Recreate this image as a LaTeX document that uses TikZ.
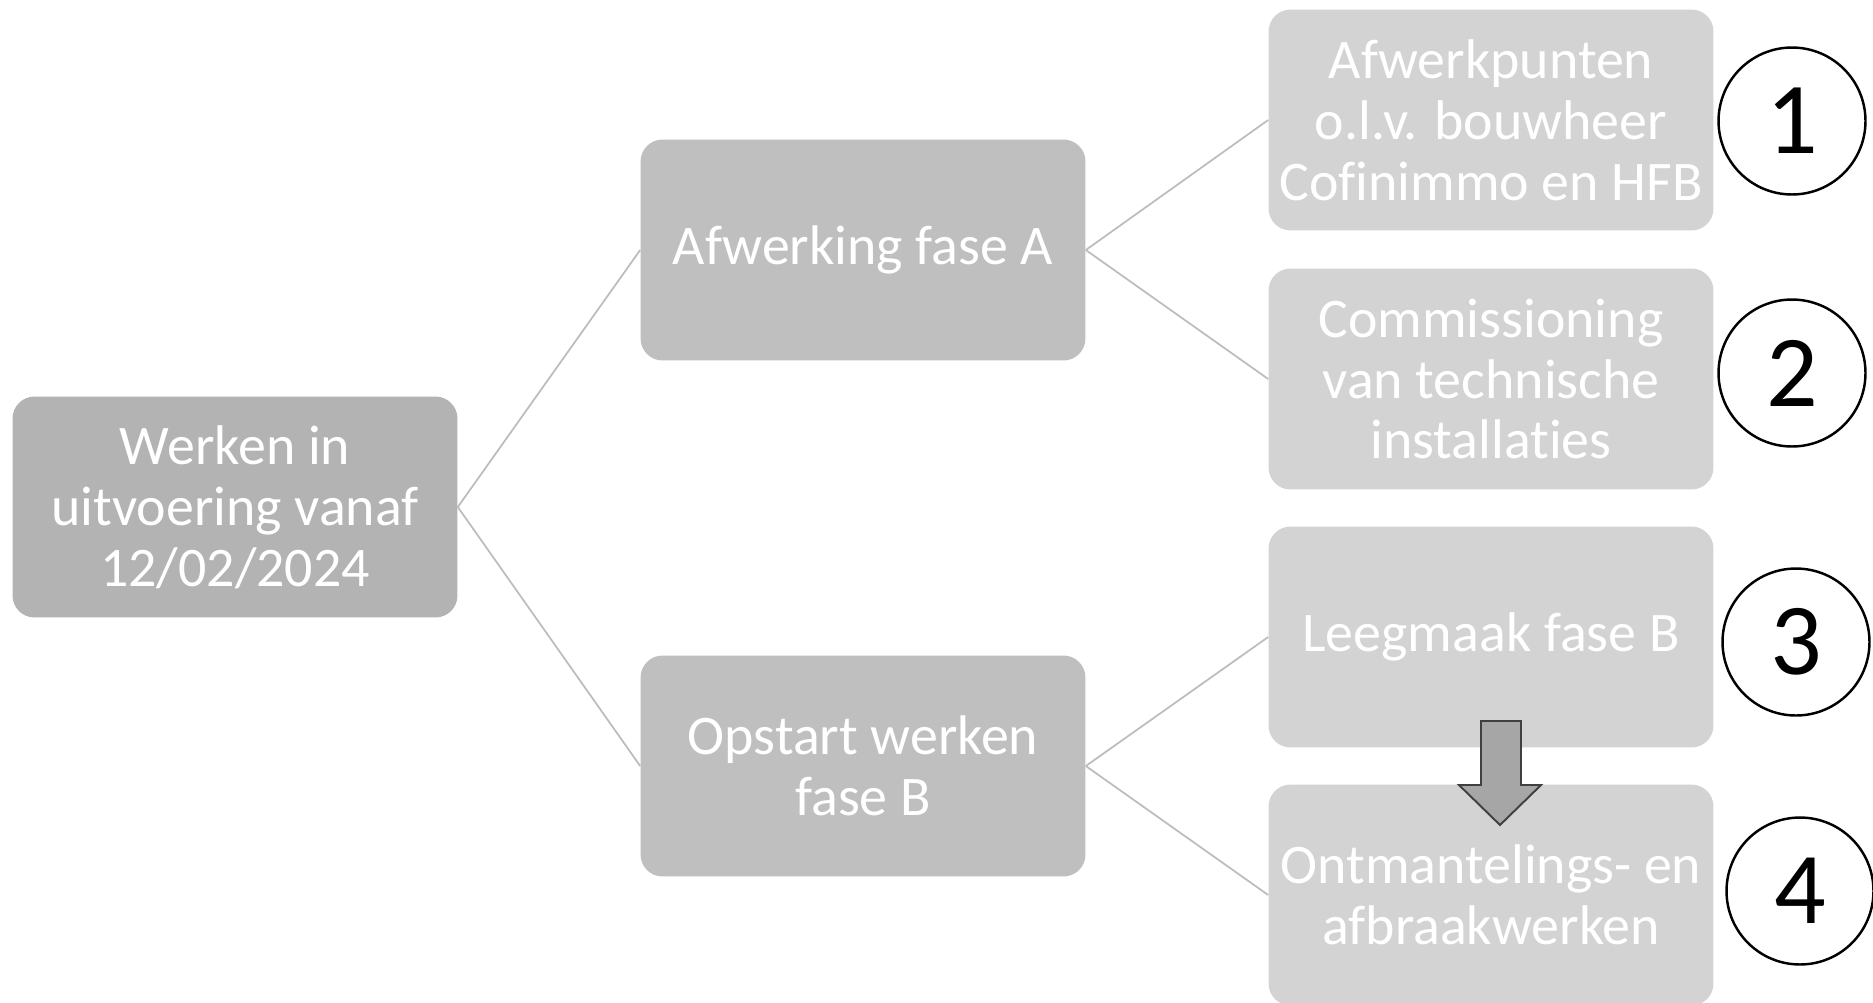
\documentclass[tikz,border=0pt]{standalone}
\usepackage{fontspec}
\setmainfont{Carlito}[Ligatures=NoCommon]
\definecolor{rootfill}{HTML}{B3B3B3}
\definecolor{midfill}{HTML}{BFBFBF}
\definecolor{leaffill}{HTML}{D3D3D3}
\definecolor{connline}{HTML}{BDBDBD}
\definecolor{arrowfill}{HTML}{A6A6A6}
\definecolor{arrowline}{HTML}{404040}
\begin{document}
\begin{tikzpicture}[x=0.02cm,y=-0.02cm,
  box/.style={rectangle, rounded corners=0.44cm, minimum width=8.9cm, minimum height=4.42cm,
    inner sep=0pt, align=center, text=white, font=\fontsize{31.8}{34.6}\selectfont},
  rootbox/.style={box, fill=rootfill},
  midbox/.style={box, fill=midfill},
  leafbox/.style={box, fill=leaffill},
  numcircle/.style={circle, draw=black, line width=1.4pt, minimum size=2.94cm, inner sep=0pt,
    font=\fontsize{58}{58}\selectfont},
  conn/.style={draw=connline, line width=1pt},
  blockarrow/.style={fill=arrowfill, draw=arrowline, line width=1.1pt, line join=miter}]
\useasboundingbox[fill=white] (0,0) rectangle (1873,1002);

\node[rootbox] (root) at (235,507) {Werken in\\uitvoering vanaf\\12/02/2024};
\node[midbox] (A) at (863,250) {Afwerking fase A};
\node[midbox] (B) at (863,766) {Opstart werken\\fase B};
\node[leafbox] (R1) at (1491,120) {Afwerkpunten\\o.l.v. bouwheer\\Cofinimmo en HFB};
\node[leafbox] (R2) at (1491,379) {Commissioning\\van technische\\installaties};
\node[leafbox] (R3) at (1491,637) {Leegmaak fase B};
\node[leafbox] (R4) at (1491,895) {Ontmantelings- en\\afbraakwerken};

\node[numcircle] (C1) at (1792,121) {1};
\node[numcircle] (C2) at (1792,373) {2};
\node[numcircle] (C3) at (1796,642) {3};
\node[numcircle] (C4) at (1800,891) {4};

\draw[conn] (root.east) -- (A.west);
\draw[conn] (root.east) -- (B.west);
\draw[conn] (A.east) -- (R1.west);
\draw[conn] (A.east) -- (R2.west);
\draw[conn] (B.east) -- (R3.west);
\draw[conn] (B.east) -- (R4.west);

\draw[blockarrow] (1481,721) -- (1521,721) -- (1521,785) -- (1541,785) -- (1500,825)
  -- (1459,785) -- (1481,785) -- cycle;
\end{tikzpicture}
\end{document}
